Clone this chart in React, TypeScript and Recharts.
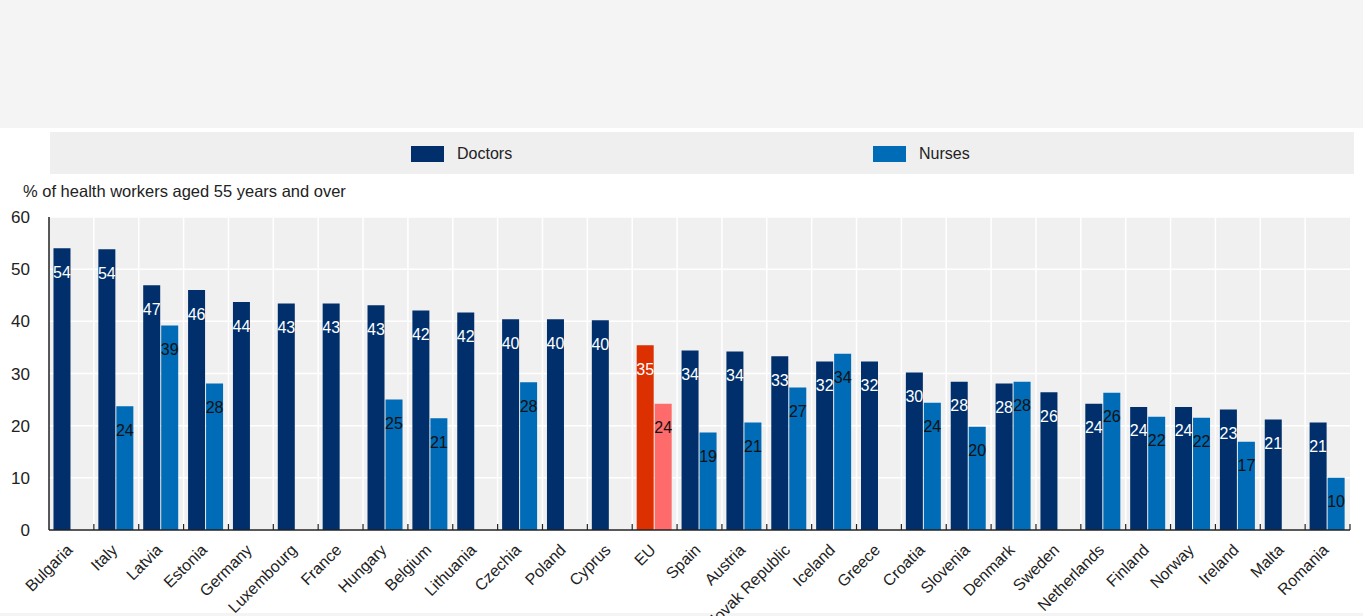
import React from 'react';
import { BarChart, Bar, XAxis, YAxis, CartesianGrid, Cell, LabelList, Legend } from 'recharts';

const countries = [
  'Bulgaria', 'Italy', 'Latvia', 'Estonia', 'Germany', 'Luxembourg', 'France', 'Hungary', 'Belgium',
  'Lithuania', 'Czechia', 'Poland', 'Cyprus', 'EU', 'Spain', 'Austria', 'Slovak Republic', 'Iceland',
  'Greece', 'Croatia', 'Slovenia', 'Denmark', 'Sweden', 'Netherlands', 'Finland', 'Norway', 'Ireland',
  'Malta', 'Romania',
];
const doctors = [
  54.0, 53.8, 46.9, 46.0, 43.7, 43.4, 43.4, 43.1, 42.1, 41.7, 40.4, 40.4, 40.2, 35.4, 34.4, 34.2,
  33.3, 32.3, 32.3, 30.2, 28.4, 28.1, 26.4, 24.2, 23.6, 23.6, 23.1, 21.2, 20.6,
];
const nurses: (number | null)[] = [
  null, 23.7, 39.2, 28.1, null, null, null, 25.0, 21.4, null, 28.3, null, null, 24.2, 18.7, 20.6,
  27.3, 33.8, null, 24.4, 19.8, 28.4, null, 26.3, 21.7, 21.5, 16.9, null, 10.0,
];
const yTicks = [0, 10, 20, 30, 40, 50, 60];
const highlight = 'EU';
const seriesNames = ['Doctors', 'Nurses'];

const FONT = '"Liberation Sans", Arial, sans-serif';
const C_DOC = '#002f6c';
const C_NUR = '#006bb6';
const C_DOC_HL = '#dd3000';
const C_NUR_HL = '#ff6b6b';

const data = countries.map((c, i) => ({ country: c, doctors: doctors[i], nurses: nurses[i] }));
const n = countries.length;

const makeLabel = (color: string) => (props: any) => {
  const { x, y, width, value } = props;
  if (value == null) return null;
  return (
    <text
      x={Number(x) + Number(width) / 2}
      y={Number(y) + 24}
      textAnchor="middle"
      dominantBaseline="central"
      fill={color}
      fontSize={16}
      fontFamily={FONT}
    >
      {Math.round(Number(value))}
    </text>
  );
};

const CountryTick = (props: any) => {
  const { x, y, payload, index } = props;
  const half = payload && typeof payload.offset === 'number' && payload.offset > 0 ? payload.offset : 22.4;
  return (
    <g>
      {index > 0 && <line x1={x - half} x2={x - half} y1={y} y2={y - 6} stroke="#222" strokeWidth={1.2} />}
      {index === n - 1 && <line x1={x + half} x2={x + half} y1={y} y2={y - 6} stroke="#222" strokeWidth={1.2} />}
      <g transform={`translate(${x + 2},${y + 21})`}>
        <text transform="rotate(-45)" textAnchor="end" fontSize={16} fontFamily={FONT} fill="#222">
          {payload.value}
        </text>
      </g>
    </g>
  );
};

const LegendContent = () => (
  <div style={{ width: 1304, height: 42, background: '#efefef', position: 'relative', fontFamily: FONT }}>
    {seriesNames.map((s, i) => (
      <div
        key={s}
        style={{ position: 'absolute', left: i === 0 ? 361 : 823, top: 13, display: 'flex', alignItems: 'center' }}
      >
        <div style={{ width: 33, height: 16, background: i === 0 ? C_DOC : C_NUR }} />
        <span style={{ marginLeft: 13, fontSize: 16, color: '#222' }}>{s}</span>
      </div>
    ))}
  </div>
);

export default function App() {
  return (
    <div style={{ position: 'absolute', left: 0, top: 0, width: 1363, height: 616, background: '#fff', overflow: 'hidden' }}>
      <div style={{ position: 'absolute', left: 0, top: 0, width: 1363, height: 128, background: '#f4f4f4' }} />
      <div style={{ position: 'absolute', left: 0, top: 613, width: 1363, height: 3, background: '#f4f4f4' }} />
      <div
        style={{
          position: 'absolute', left: 23, top: 181, fontSize: 16.5, fontFamily: FONT, color: '#222',
          whiteSpace: 'nowrap', lineHeight: '20px',
        }}
      >
        % of health workers aged 55 years and over
      </div>
      <div style={{ position: 'absolute', left: 0, top: 0 }}>
        <BarChart
          width={1363}
          height={616}
          data={data}
          margin={{ top: 217, right: 13, left: 0, bottom: 0 }}
          barCategoryGap="10%"
          barGap={1}
        >
          <CartesianGrid
            fill="#f0f0f0"
            stroke="#ffffff"
            strokeWidth={1.5}
            verticalCoordinatesGenerator={({ offset }: any) =>
              Array.from({ length: n - 1 }, (_, i) => offset.left + ((i + 1) * offset.width) / n)
            }
          />
          <XAxis
            dataKey="country"
            interval={0}
            tick={<CountryTick />}
            tickLine={false}
            tickSize={0}
            tickMargin={0}
            axisLine={{ stroke: '#222', strokeWidth: 1.5 }}
            height={86}
          />
          <YAxis
            domain={[0, 60]}
            ticks={yTicks}
            width={49}
            tickLine={false}
            axisLine={{ stroke: '#222', strokeWidth: 1.5 }}
            tickMargin={13}
            tick={{ fontSize: 17, fontFamily: FONT, fill: '#222' }}
            interval={0}
          />
          <Legend verticalAlign="middle" align="center" wrapperStyle={{ top: 132, left: 50, width: 1304, height: 42 }} content={<LegendContent />} />
          <Bar dataKey="doctors" name="Doctors" fill={C_DOC} isAnimationActive={false}>
            {data.map((d) => (
              <Cell key={d.country} fill={d.country === highlight ? C_DOC_HL : C_DOC} />
            ))}
            <LabelList dataKey="doctors" content={makeLabel('#ffffff')} />
          </Bar>
          <Bar dataKey="nurses" name="Nurses" fill={C_NUR} isAnimationActive={false}>
            {data.map((d) => (
              <Cell key={d.country} fill={d.country === highlight ? C_NUR_HL : C_NUR} />
            ))}
            <LabelList dataKey="nurses" content={makeLabel('#111111')} />
          </Bar>
        </BarChart>
      </div>
    </div>
  );
}
